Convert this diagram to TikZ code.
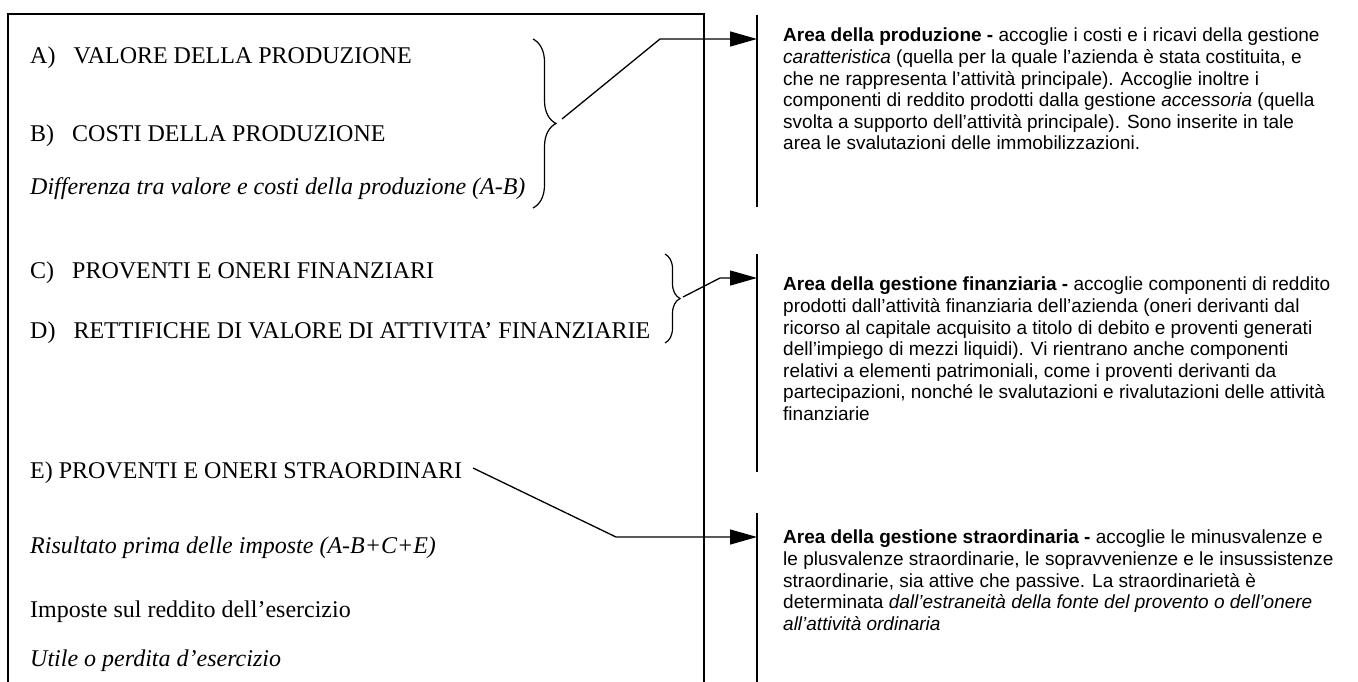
\documentclass[tikz,border=0pt]{standalone}
\usepackage{fontspec}
\setmainfont{Liberation Serif}
\setsansfont{Liberation Sans}
\usetikzlibrary{arrows.meta,decorations.pathreplacing}
\begin{document}
\begin{tikzpicture}[x=1pt,y=-1pt,
  lefttext/.style={anchor=base west, inner sep=0pt, font=\fontsize{24}{28}\selectfont},
  righttext/.style={anchor=north west, inner sep=0pt, align=left, font=\sffamily\fontsize{19}{21.6}\selectfont},
  frame/.style={line width=1.5pt},
  conn/.style={line width=1.3pt, -{Triangle[length=27pt,width=15pt]}},
  bracestyle/.style={line width=1.2pt, decorate, decoration={brace, amplitude=#1}}]
\useasboundingbox (0,0) rectangle (1358,681);
% frame of the left box
\draw[frame] (8,683) -- (8,14) -- (704,14) -- (704,683);
% vertical separators
\draw[frame] (757,15) coordinate (v1top) -- (757,207) coordinate (v1bot);
\draw[frame] (757,254) coordinate (v2top) -- (757,472) coordinate (v2bot);
\draw[frame] (757,513) coordinate (v3top) -- (757,683) coordinate (v3bot);
% left texts
\node[lefttext] (A) at (30,63) {A)\hspace{0.75em}VALORE DELLA PRODUZIONE};
\node[lefttext] (B) at (30,141) {B)\hspace{0.75em}COSTI DELLA PRODUZIONE};
\node[lefttext] (AB) at (30,194) {\itshape Differenza tra valore e costi della produzione (A-B)};
\node[lefttext] (C) at (30,278) {C)\hspace{0.75em}PROVENTI E ONERI FINANZIARI};
\node[lefttext] (D) at (30,338) {D)\hspace{0.75em}RETTIFICHE DI VALORE DI ATTIVITA’ FINANZIARIE};
\node[lefttext] (E) at (30,478) {E) PROVENTI E ONERI STRAORDINARI};
\node[lefttext] (R) at (30,553) {\itshape Risultato prima delle imposte (A-B+C+E)};
\node[lefttext] (I) at (30,617) {Imposte sul reddito dell’esercizio};
\node[lefttext] (U) at (30,666) {\itshape Utile o perdita d’esercizio};
% braces
\draw[bracestyle=23pt] (533,39) -- (533,208);
\draw[bracestyle=15pt] (665,254) -- (665,343);
% right texts
\node[righttext] (T1) at (783,28) {\textbf{Area della produzione -} accoglie i costi e i ricavi della gestione\\
\textit{caratteristica} (quella per la quale l’azienda è stata costituita, e\\
che ne rappresenta l’attività principale). Accoglie inoltre i\\
componenti di reddito prodotti dalla gestione \textit{accessoria} (quella\\
svolta a supporto dell’attività principale). Sono inserite in tale\\
area le svalutazioni delle immobilizzazioni.};
\node[righttext] (T2) at (783,277) {\textbf{Area della gestione finanziaria -} accoglie componenti di reddito\\
prodotti dall’attività finanziaria dell’azienda (oneri derivanti dal\\
ricorso al capitale acquisito a titolo di debito e proventi generati\\
dell’impiego di mezzi liquidi). Vi rientrano anche componenti\\
relativi a elementi patrimoniali, come i proventi derivanti da\\
partecipazioni, nonché le svalutazioni e rivalutazioni delle attività\\
finanziarie};
\node[righttext] (T3) at (783,530) {\textbf{Area della gestione straordinaria -} accoglie le minusvalenze e\\
le plusvalenze straordinarie, le sopravvenienze e le insussistenze\\
straordinarie, sia attive che passive. La straordinarietà è\\
determinata \textit{dall’estraneità della fonte del provento o dell’onere}\\
\textit{all’attività ordinaria}};
% connectors
\coordinate (s1) at (562,119);
\coordinate (k1) at (660,39);
\coordinate (e1) at (757,39);
\draw[conn] (s1) -- (k1) -- (e1);
\coordinate (s2) at (683,297);
\coordinate (k2) at (720,278);
\coordinate (e2) at (757,278);
\draw[conn] (s2) -- (k2) -- (e2);
\coordinate (s3) at (473,468);
\coordinate (k3) at (616,537);
\coordinate (e3) at (757,537);
\draw[conn] (s3) -- (k3) -- (e3);
\end{tikzpicture}
\end{document}
